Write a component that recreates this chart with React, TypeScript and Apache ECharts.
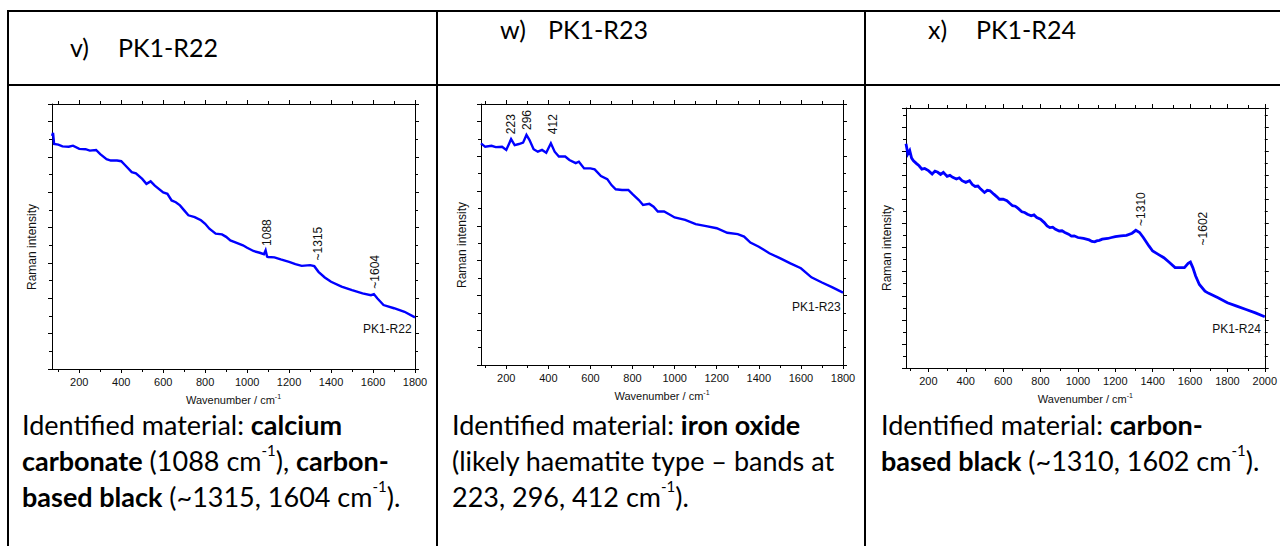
import React, { useEffect, useRef } from "react";
import * as echarts from "echarts";

// ---------- data ----------
const ticksTo1800 = [200, 400, 600, 800, 1000, 1200, 1400, 1600, 1800];
const minorTo1800 = [100, 300, 500, 700, 900, 1100, 1300, 1500, 1700];
const ticksTo2000 = [200, 400, 600, 800, 1000, 1200, 1400, 1600, 1800, 2000];
const minorTo2000 = [100, 300, 500, 700, 900, 1100, 1300, 1500, 1700, 1900];

const specR22: [number, number][] = [
  [70, 660], [75, 668], [80, 637], [100, 635], [120, 630], [150, 629], [170, 632], [200, 623], [230, 622],
  [250, 618], [280, 620], [300, 608], [330, 594], [350, 590], [380, 590], [400, 588], [420, 576],
  [450, 557], [470, 554], [500, 538], [520, 524], [540, 531], [560, 519], [600, 500], [620, 496],
  [640, 477], [660, 472], [680, 463], [700, 449], [720, 435], [750, 430], [780, 421], [800, 411],
  [820, 397], [850, 383], [880, 381], [900, 374], [920, 364], [950, 357], [980, 350], [1000, 343],
  [1030, 334], [1060, 329], [1080, 325], [1088, 336], [1095, 318], [1100, 317], [1130, 316],
  [1160, 310], [1200, 303], [1230, 297], [1260, 292], [1300, 294], [1320, 291], [1340, 275],
  [1370, 259], [1400, 247], [1450, 233], [1500, 223], [1550, 214], [1590, 209], [1604, 212],
  [1620, 200], [1650, 181], [1700, 172], [1750, 162], [1800, 146],
];
const specR23: [number, number][] = [
  [80, 637], [100, 627], [130, 630], [150, 626], [180, 627], [200, 618], [223, 649], [240, 632],
  [260, 635], [280, 639], [296, 661], [310, 647], [330, 620], [350, 613], [370, 618], [390, 610],
  [412, 637], [430, 613], [450, 599], [480, 599], [500, 589], [530, 580], [545, 584], [570, 565],
  [600, 565], [620, 562], [650, 543], [680, 534], [700, 517], [720, 505], [750, 503], [780, 503],
  [800, 491], [830, 474], [850, 460], [880, 463], [900, 455], [920, 441], [950, 441], [980, 431],
  [1000, 424], [1050, 417], [1100, 405], [1150, 399], [1200, 393], [1250, 380], [1300, 376],
  [1330, 369], [1360, 352], [1400, 340], [1450, 321], [1500, 307], [1550, 292], [1600, 278],
  [1650, 252], [1700, 237], [1750, 223], [1800, 208],
];
const specR24: [number, number][] = [
  [80, 931], [90, 889], [100, 903], [110, 872], [120, 861], [135, 850], [150, 840], [165, 826], [180, 829], [200, 820], [220, 806],
  [235, 818], [250, 813], [265, 804], [280, 813], [300, 796], [315, 800], [330, 792], [350, 785], [365, 790], [380, 778], [400, 771], [420, 778],
  [435, 762], [450, 754], [465, 756], [480, 743], [500, 729], [515, 738], [530, 736], [550, 722], [565, 712], [580, 701], [600, 701], [620, 695],
  [635, 684], [650, 674], [665, 672], [680, 663], [700, 649], [715, 646], [730, 639], [750, 632], [765, 636], [780, 625], [800, 618], [820, 604],
  [835, 590], [850, 583], [865, 585], [880, 576], [900, 569], [915, 570], [930, 563], [950, 556], [965, 548], [980, 549], [1000, 542], [1030, 538],
  [1060, 532], [1075, 526], [1090, 524], [1100, 528], [1115, 530], [1130, 535], [1160, 538], [1180, 542], [1200, 546], [1230, 549],
  [1260, 551], [1290, 560], [1310, 572], [1330, 563], [1350, 542], [1380, 507], [1400, 486],
  [1430, 472], [1460, 458], [1490, 438], [1520, 417], [1550, 417], [1570, 417], [1590, 435],
  [1602, 440], [1615, 417], [1630, 382], [1650, 347], [1680, 319], [1700, 310], [1750, 292],
  [1800, 271], [1850, 257], [1900, 243], [1950, 229], [2000, 213],
];

// peak annotations: [label, x, y] (label centre in data units)
const peaksR22: [string, number, number][] = [["1088", 1097, 386], ["~1315", 1339, 355], ["~1604", 1609, 275]];
const peaksR23: [string, number, number][] = [["223", 222, 692], ["296", 300, 704], ["412", 424, 692]];
const peaksR24: [string, number, number][] = [["~1310", 1338, 660], ["~1602", 1669, 579]];
// sample tags: [label, right x, y]
const tagR22: [string, number, number] = ["PK1-R22", 1784, 113];
const tagR23: [string, number, number] = ["PK1-R23", 1789, 166];
const tagR24: [string, number, number] = ["PK1-R24", 1979, 162];

const headerLetters = ["v)", "w)", "x)"];
const headerNames = ["PK1-R22", "PK1-R23", "PK1-R24"];
const captions = [
  "Identified material: {b|calcium}\n{b|carbonate} (1088 cm{s|-1}), {b|carbon-}\n{b|based black} (~1315, 1604 cm{s|-1}).",
  "Identified material: {b|iron oxide}\n(likely haematite type \u2013 bands at\n223, 296, 412 cm{s|-1}).",
  "Identified material: {b|carbon-}\n{b|based black} (~1310, 1602 cm{s|-1}).",
];

// ---------- styling / layout ----------
const ARIAL = "'Liberation Sans', Arial, sans-serif";
const DOC = "Lato, 'Open Sans', sans-serif";
const BLUE = "#0000ff";

const plots = [
  { rect: { left: 52, top: 104, width: 363, height: 265 }, xMin: 70, xMax: 1800, yMax: 750, majors: ticksTo1800, minors: minorTo1800, data: specR22, peaks: peaksR22, tag: tagR22, lw: 2.4 },
  { rect: { left: 481, top: 104, width: 362, height: 261 }, xMin: 80, xMax: 1800, yMax: 750, majors: ticksTo1800, minors: minorTo1800, data: specR23, peaks: peaksR23, tag: tagR23, lw: 2.4 },
  { rect: { left: 906, top: 108, width: 361, height: 260 }, xMin: 80, xMax: 2000, yMax: 1080, majors: ticksTo2000, minors: minorTo2000, data: specR24, peaks: peaksR24, tag: tagR24, lw: 2.8 },
];

function buildOption() {
  const grid: any[] = [];
  const xAxis: any[] = [];
  const yAxis: any[] = [];
  const series: any[] = [];
  const axisLine = { show: true, onZero: false, lineStyle: { color: "#000", width: 1 } };

  plots.forEach((p, i) => {
    grid.push({ ...p.rect, containLabel: false });
    grid.push({ ...p.rect, containLabel: false });
    const g = 2 * i;
    const base = { type: "value", min: p.xMin, max: p.xMax, splitLine: { show: false } };
    xAxis.push({
      ...base, gridIndex: g, position: "bottom", axisLine,
      axisTick: { show: true, customValues: p.majors, length: 4, lineStyle: { color: "#000" } },
      axisLabel: { show: true, customValues: p.majors, fontSize: 11, color: "#111", fontFamily: ARIAL, margin: 7, formatter: (v: number) => String(v) },
      name: "Wavenumber / cm{s|-1}", nameLocation: "middle", nameGap: 24,
      nameTextStyle: { fontSize: 11, color: "#111", fontFamily: ARIAL, rich: { s: { fontSize: 7, verticalAlign: "top", fontFamily: ARIAL, color: "#111", padding: [0, 0, 6, 0] } } },
    });
    xAxis.push({
      ...base, gridIndex: g, position: "top", axisLine,
      axisTick: { show: true, customValues: p.majors, length: 4, lineStyle: { color: "#000" } },
      axisLabel: { show: false },
    });
    xAxis.push({
      ...base, gridIndex: g + 1, position: "bottom", axisLine: { show: false, onZero: false },
      axisTick: { show: true, customValues: p.minors, length: 3, lineStyle: { color: "#000" } },
      axisLabel: { show: false },
    });
    xAxis.push({
      ...base, gridIndex: g + 1, position: "top", axisLine: { show: false, onZero: false },
      axisTick: { show: true, customValues: p.minors, length: 3, lineStyle: { color: "#000" } },
      axisLabel: { show: false },
    });
    const ybase = {
      type: "value", min: 0, max: p.yMax, interval: 100, gridIndex: g, axisLine, splitLine: { show: false },
      axisTick: { show: true, length: 4, lineStyle: { color: "#000" } },
      minorTick: { show: true, splitNumber: 2, length: 3, lineStyle: { color: "#000" } },
      axisLabel: { show: false },
    };
    yAxis.push({ ...ybase, position: "left" });
    yAxis.push({ ...ybase, position: "right" });
    yAxis.push({ type: "value", min: 0, max: p.yMax, gridIndex: g + 1, show: false });

    series.push({
      type: "line",
      xAxisIndex: 4 * i,
      yAxisIndex: 3 * i,
      data: p.data,
      showSymbol: false,
      symbol: "none",
      silent: true,
      lineStyle: { color: BLUE, width: p.lw, join: "miter" },
      markPoint: {
        symbol: "circle",
        symbolSize: 0,
        silent: true,
        label: { show: true, formatter: "{b}", position: "inside", rotate: 90, fontSize: 12, color: "#111", fontFamily: ARIAL },
        data: [
          ...p.peaks.map(([n, x, y]) => ({ name: n, coord: [x, y] })),
          { name: p.tag[0], coord: [p.tag[1], p.tag[2]], label: { rotate: 0, position: "left", distance: 0 } },
        ],
      },
    });
  });

  const lines = [
    [8, 11, 1280, 11],
    [8, 85, 1280, 85],
    [8, 10, 8, 546],
    [437, 10, 437, 546],
    [865, 10, 865, 546],
  ];
  const graphic: any[] = lines.map(([x1, y1, x2, y2]) => ({
    type: "line", shape: { x1, y1, x2, y2 }, style: { stroke: "#000", lineWidth: 2 }, silent: true,
  }));

  const headPos = [[70, 47], [500, 29], [928, 29]];
  headerLetters.forEach((l, i) => {
    graphic.push({ type: "text", x: headPos[i][0], y: headPos[i][1], style: { text: l, fontFamily: DOC, fontSize: 25, fill: "#000", textAlign: "left", textVerticalAlign: "middle" } });
    graphic.push({ type: "text", x: headPos[i][0] + 48, y: headPos[i][1], style: { text: headerNames[i], fontFamily: DOC, fontSize: 25, fill: "#000", textAlign: "left", textVerticalAlign: "middle" } });
  });

  const yNamePos = [[32, 247], [462, 245], [887, 248]];
  yNamePos.forEach(([x, y]) => {
    graphic.push({ type: "text", x, y, rotation: Math.PI / 2, style: { text: "Raman intensity", fontFamily: ARIAL, fontSize: 12, fill: "#111", textAlign: "center", textVerticalAlign: "middle" } });
  });

  const capPos = [[22, 406], [452, 406], [881, 406]];
  captions.forEach((c, i) => {
    graphic.push({
      type: "text", x: capPos[i][0], y: capPos[i][1],
      style: {
        text: c, fontFamily: DOC, fontSize: 27, lineHeight: 36, fill: "#000", textAlign: "left", textVerticalAlign: "top",
        rich: {
          b: { fontFamily: DOC, fontSize: 27, fontWeight: "bold", lineHeight: 36, fill: "#000" },
          s: { fontFamily: DOC, fontSize: 15, lineHeight: 36, verticalAlign: "top", fill: "#000" },
        },
      },
    });
  });

  return {
    animation: false,
    backgroundColor: "#fff",
    textStyle: { fontFamily: ARIAL },
    grid, xAxis, yAxis, series, graphic,
  };
}

export default function App() {
  const ref = useRef<HTMLDivElement>(null);
  useEffect(() => {
    if (!ref.current) return;
    const chart = echarts.init(ref.current, undefined, { renderer: "svg" });
    chart.setOption(buildOption() as any);
    return () => chart.dispose();
  }, []);
  return <div ref={ref} style={{ position: "fixed", left: 0, top: 0, width: 1280, height: 546, background: "#fff" }} />;
}
